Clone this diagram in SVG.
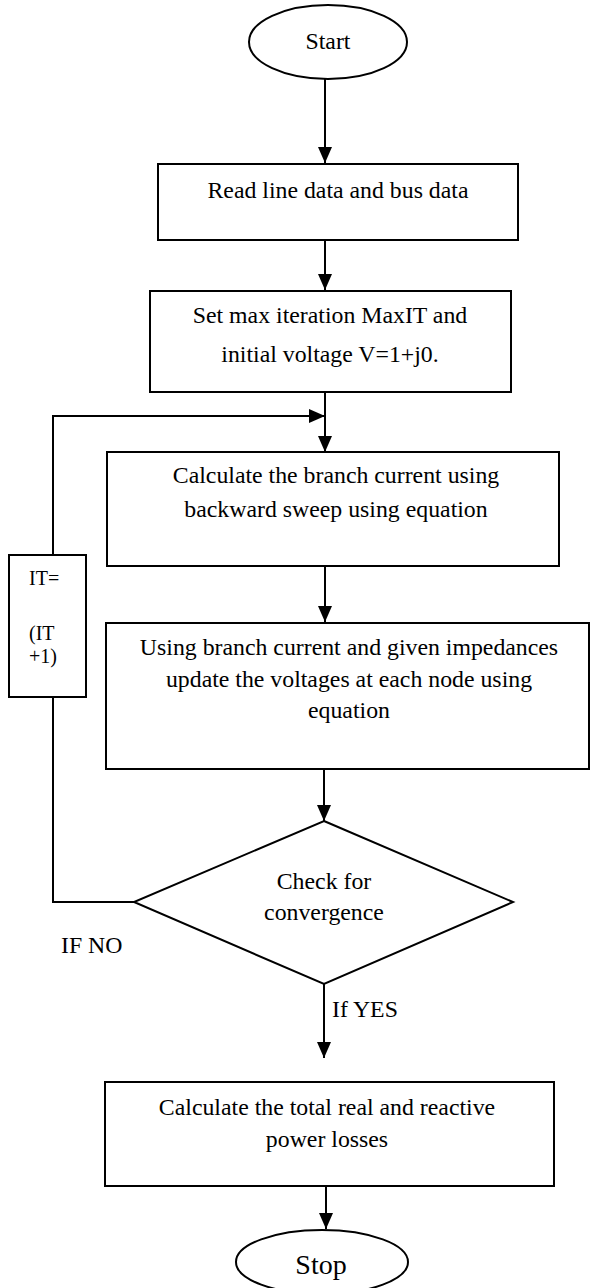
<svg xmlns="http://www.w3.org/2000/svg" width="590" height="1288" viewBox="0 0 590 1288">
<style>
.n{fill:#fff;stroke:#000;stroke-width:2}
.c{fill:none;stroke:#000;stroke-width:2}
text{font-family:"Liberation Serif","Times New Roman",serif;font-size:23.8px;fill:#000}
.m{text-anchor:middle}
.s{font-size:20px}
</style>
<defs>
<marker id="ah" markerUnits="userSpaceOnUse" markerWidth="16" markerHeight="14" refX="16" refY="7" orient="auto">
<polygon points="0,0 16,7 0,14" fill="#000"/>
</marker>
</defs>
<rect width="590" height="1288" fill="#fff"/>
<g id="connectors">
<line class="c" x1="325" y1="79" x2="325" y2="163" marker-end="url(#ah)"/>
<line class="c" x1="325" y1="240" x2="325" y2="290" marker-end="url(#ah)"/>
<line class="c" x1="325" y1="392" x2="325" y2="452" marker-end="url(#ah)"/>
<line class="c" x1="325" y1="566" x2="325" y2="622" marker-end="url(#ah)"/>
<line class="c" x1="324" y1="769" x2="324" y2="821" marker-end="url(#ah)"/>
<line class="c" x1="324" y1="984" x2="324" y2="1058" marker-end="url(#ah)"/>
<line class="c" x1="326" y1="1186" x2="326" y2="1229" marker-end="url(#ah)"/>
<polyline class="c" points="134,902 53,902 53,697"/>
<polyline class="c" points="53,555 53,416 325,416" marker-end="url(#ah)"/>
<text x="61" y="953">IF NO</text>
<text x="332" y="1017">If YES</text>
</g>
<g id="start">
<ellipse class="n" cx="328" cy="42" rx="79" ry="37"/>
<text class="m" x="328" y="49">Start</text>
</g>
<g id="read">
<rect class="n" x="158" y="164" width="360" height="76"/>
<text class="m" x="338" y="198">Read line data and bus data</text>
</g>
<g id="set">
<rect class="n" x="150" y="291" width="361" height="101"/>
<text class="m" x="330" y="323">Set max iteration MaxIT and</text>
<text class="m" x="330" y="362">initial voltage V=1+j0.</text>
</g>
<g id="calc">
<rect class="n" x="107" y="452" width="452" height="114"/>
<text class="m" x="336" y="483">Calculate the branch current using</text>
<text class="m" x="336" y="517">backward sweep using equation</text>
</g>
<g id="update">
<rect class="n" x="106" y="623" width="483" height="146"/>
<text class="m" x="349" y="655">Using branch current and given impedances</text>
<text class="m" x="349" y="687">update the voltages at each node using</text>
<text class="m" x="349" y="718">equation</text>
</g>
<g id="it">
<rect class="n" x="9" y="555" width="77" height="142"/>
<text class="s" x="29" y="585">IT=</text>
<text class="s" x="29" y="640">(IT</text>
<text class="s" x="29" y="663">+1)</text>
</g>
<g id="check">
<polygon class="n" points="324,821 513,902 324,984 134,902"/>
<text class="m" x="324" y="889">Check for</text>
<text class="m" x="324" y="920">convergence</text>
</g>
<g id="losses">
<rect class="n" x="105" y="1082" width="449" height="104"/>
<text class="m" x="327" y="1115">Calculate the total real and reactive</text>
<text class="m" x="327" y="1147">power losses</text>
</g>
<g id="stop">
<ellipse class="n" cx="322" cy="1262" rx="86" ry="32"/>
<text class="m" x="321" y="1274" style="font-size:28px">Stop</text>
</g>
</svg>
